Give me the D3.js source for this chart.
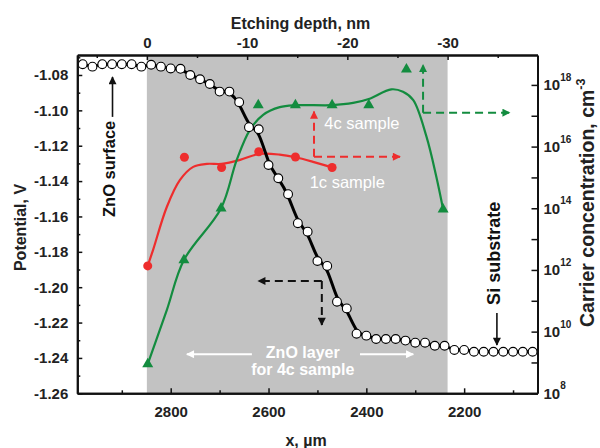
<!DOCTYPE html>
<html>
<head>
<meta charset="utf-8">
<script src="https://cdn.jsdelivr.net/npm/d3@7"></script>
<style>
  body { margin: 0; background: #fff; }
  svg { display: block; font-family: "Liberation Sans", Arial, sans-serif; }
  .axis .domain { stroke: #111; stroke-width: 2; }
  .axis line { stroke: #111; stroke-width: 1.5; }
  .axis text { font-size: 15px; font-weight: bold; fill: #222; }
</style>
</head>
<body>
<svg id="chart" width="600" height="448"></svg>
<script>
// potential profile (black line, left axis)
const potX = [2980, 2960, 2940, 2920, 2900, 2880, 2860, 2840, 2820, 2800, 2780, 2760,
  2740, 2720, 2700, 2680, 2660, 2640, 2620, 2600, 2580, 2560, 2540, 2520, 2500, 2480,
  2460, 2440, 2420, 2400, 2380, 2360, 2340, 2320, 2300, 2280, 2260, 2240, 2220, 2200,
  2180, 2160, 2140, 2120, 2100, 2080, 2060];
const potV = [-1.0739, -1.0753, -1.0739, -1.0739, -1.0739, -1.0739, -1.0753, -1.0742,
  -1.0753, -1.0763, -1.0765, -1.0800, -1.0824, -1.0851, -1.0894, -1.0894, -1.0954,
  -1.1095, -1.1107, -1.1309, -1.1384, -1.1474, -1.1638, -1.1686, -1.1852, -1.1880,
  -1.2082, -1.2120, -1.2263, -1.2274, -1.2293, -1.2293, -1.2293, -1.2302, -1.2314,
  -1.2314, -1.2331, -1.2331, -1.2355, -1.2355, -1.2365, -1.2365, -1.2365, -1.2365,
  -1.2365, -1.2365, -1.2365];

// 1c sample (red, right axis)
const c1X = [2847, 2772, 2696, 2620, 2545, 2470];
const c1N = [1.35e12, 4.5e15, 2.1e15, 6.8e15, 4.6e15, 2.1e15];
const c1FitX = [2847, 2836, 2808, 2781, 2754, 2726, 2696, 2658, 2620, 2577, 2545, 2509, 2470];
const c1FitN = [1.35e12, 4.5e12, 1.1e14, 8.3e14, 2.2e15, 2.75e15, 2.75e15, 3.7e15, 5.75e15,
  5.5e15, 4.5e15, 3.2e15, 2.1e15];

// 4c sample (green, right axis)
const c4X = [2847, 2773, 2697, 2621, 2545, 2470, 2395, 2318, 2243];
const c4N = [8.9e8, 2.1e12, 1.0e14, 2.2e17, 2.2e17, 2.2e17, 2.2e17, 3.2e18, 9.3e13];
const c4FitX = [2847, 2808, 2773, 2697, 2665, 2638, 2611, 2577, 2545, 2470, 2427,
  2395, 2349, 2325, 2304, 2277, 2257, 2243];
const c4FitN = [8.9e8, 5.0e10, 2.1e12, 1.0e14, 3.7e15, 3.5e16, 1.07e17, 1.9e17,
  2.2e17, 2.2e17, 2.6e17, 3.5e17, 7.2e17, 6.0e17, 3.2e17, 2.1e16, 1.07e15, 9.3e13];

// ticks
const xMajor = [2800, 2600, 2400, 2200];
const xMinor = [2900, 2700, 2500, 2300, 2100];
const depthMajor = [0, -10, -20, -30];
const depthMinor = [5, -5, -15, -25, -35];
const vMajor = [-1.08, -1.10, -1.12, -1.14, -1.16, -1.18, -1.20, -1.22, -1.24, -1.26];
const vMinor = [-1.07, -1.09, -1.11, -1.13, -1.15, -1.17, -1.19, -1.21, -1.23, -1.25];
const nExpLabels = [8, 10, 12, 14, 16, 18];
const znoLayer = [0, -30]; // etching depth, nm

const red = '#ee2d2d', green = '#138c3f';

const svg = d3.select('#chart');
const margin = { top: 55, right: 62.5, bottom: 54.7, left: 77.3 };
const W = 600 - margin.left - margin.right;
const H = 448 - margin.top - margin.bottom;
const g = svg.append('g').attr('transform', `translate(${margin.left},${margin.top})`);

const x = d3.scaleLinear().domain([2991, 2050]).range([0, W]);
const xTop = d3.scaleLinear().domain([6.94, -38.97]).range([0, W]);
const y = d3.scaleLinear().domain([-1.26, -1.0687]).range([H, 0]);
const yR = d3.scaleLog().domain([1e8, Math.pow(10, 18.97)]).range([H, 0]);

// markers
const defs = svg.append('defs');
function marker(id, color) {
  defs.append('marker').attr('id', id)
    .attr('viewBox', '0 0 10 10').attr('refX', 9).attr('refY', 5)
    .attr('markerWidth', 10).attr('markerHeight', 8)
    .attr('markerUnits', 'userSpaceOnUse').attr('orient', 'auto')
    .append('path').attr('d', 'M0,0L10,5L0,10z').attr('fill', color);
}
marker('ar-red', red); marker('ar-green', green);
marker('ar-black', '#111'); marker('ar-white', '#fff');

// gray ZnO band
g.append('rect')
  .attr('x', xTop(znoLayer[0])).attr('y', 0)
  .attr('width', xTop(znoLayer[1]) - xTop(znoLayer[0])).attr('height', H)
  .attr('fill', '#c2c2c2');

// fitted curves
const lineR = d3.line().x(d => x(d[0])).y(d => yR(d[1])).curve(d3.curveCatmullRom.alpha(0.5));
g.append('path').datum(d3.zip(c1FitX, c1FitN)).attr('d', lineR)
  .attr('fill', 'none').attr('stroke', red).attr('stroke-width', 2.2);
g.append('path').datum(d3.zip(c4FitX, c4FitN)).attr('d', lineR)
  .attr('fill', 'none').attr('stroke', green).attr('stroke-width', 2.2);

g.selectAll('.c1').data(d3.zip(c1X, c1N)).join('circle')
  .attr('cx', d => x(d[0])).attr('cy', d => yR(d[1])).attr('r', 4.5).attr('fill', red);
g.selectAll('.c4').data(d3.zip(c4X, c4N)).join('path')
  .attr('transform', d => `translate(${x(d[0])},${yR(d[1])})`)
  .attr('d', d3.symbol(d3.symbolTriangle, 52)).attr('fill', green);

// potential (smoothed line through the measured points)
const lineV = d3.line().x(d => x(d[0])).y(d => y(d[1])).curve(d3.curveBasis);
g.append('path').datum(d3.zip(potX, potV)).attr('d', lineV)
  .attr('fill', 'none').attr('stroke', '#000').attr('stroke-width', 3);
g.selectAll('.pv').data(d3.zip(potX, potV)).join('circle')
  .attr('cx', d => x(d[0])).attr('cy', d => y(d[1])).attr('r', 4.4)
  .attr('fill', '#fff').attr('stroke', '#000').attr('stroke-width', 1.1);

// annotation arrows (data coords: x in um, y in V)
function arrow(x1, v1, x2, v2, color, id, dash, w) {
  g.append('line')
    .attr('x1', x(x1)).attr('y1', y(v1)).attr('x2', x(x2)).attr('y2', y(v2))
    .attr('stroke', color).attr('stroke-width', w || 2)
    .attr('stroke-dasharray', dash ? '8,5' : null)
    .attr('marker-end', `url(#${id})`);
}
// red: 1c sample -> right axis
arrow(2507, -1.1262, 2507, -1.1007, red, 'ar-red', true);
arrow(2507, -1.1262, 2331, -1.1262, red, 'ar-red', true);
// green: 4c sample -> right axis
arrow(2284, -1.1013, 2284, -1.0743, green, 'ar-green', true);
arrow(2284, -1.1013, 2107, -1.1013, green, 'ar-green', true);
// black: potential -> left axis
arrow(2491, -1.1965, 2621, -1.1965, '#111', 'ar-black', true);
arrow(2491, -1.1965, 2491, -1.2214, '#111', 'ar-black', true);
// surface / substrate pointers
arrow(2919, -1.1037, 2919, -1.0811, '#111', 'ar-black', false, 1.6);
arrow(2133, -1.2146, 2133, -1.2327, '#111', 'ar-black', false, 1.6);
// ZnO layer span
arrow(2634, -1.2379, 2767, -1.2379, '#fff', 'ar-white', false, 2);
arrow(2413, -1.2379, 2304, -1.2379, '#fff', 'ar-white', false, 2);

// annotation texts
function label(txt, ux, v, opts) {
  const t = g.append('text').text(txt)
    .attr('font-size', opts.size).attr('font-weight', opts.bold ? 'bold' : 'normal')
    .attr('fill', opts.color).attr('text-anchor', opts.anchor || 'middle');
  if (opts.rotate) t.attr('transform', `translate(${x(ux)},${y(v)}) rotate(-90)`);
  else t.attr('x', x(ux)).attr('y', y(v));
}
label('4c sample', 2409, -1.1108, { size: 16.5, color: '#fff' });
label('1c sample', 2439, -1.1439, { size: 16.5, color: '#fff' });
label('ZnO layer', 2530, -1.2400, { size: 16, bold: true, color: '#fff' });
label('for 4c sample', 2530, -1.2496, { size: 16, bold: true, color: '#fff' });
label('ZnO surface', 2914, -1.1603, { size: 16.5, bold: true, color: '#111', rotate: true, anchor: 'start' });
label('Si substrate', 2127, -1.2100, { size: 18, bold: true, color: '#111', rotate: true, anchor: 'start' });

// axes
const gb = g.append('g').attr('class', 'axis').attr('transform', `translate(0,${H})`);
gb.call(d3.axisBottom(x).tickValues(xMajor).tickSize(-5).tickSizeOuter(0).tickPadding(13).tickFormat(d => d));
gb.append('g').call(d3.axisBottom(x).tickValues(xMinor).tickSize(-3).tickSizeOuter(0).tickFormat(''));

const gt = g.append('g').attr('class', 'axis');
gt.call(d3.axisTop(xTop).tickValues(depthMajor).tickSize(-5).tickSizeOuter(0).tickPadding(7).tickFormat(d => String(d)));
gt.append('g').call(d3.axisTop(xTop).tickValues(depthMinor).tickSize(-3).tickSizeOuter(0).tickFormat(''));

const gl = g.append('g').attr('class', 'axis');
gl.call(d3.axisLeft(y).tickValues(vMajor).tickSize(-5).tickSizeOuter(0).tickPadding(9).tickFormat(d => d.toFixed(2)));
gl.append('g').call(d3.axisLeft(y).tickValues(vMinor).tickSize(-3).tickSizeOuter(0).tickFormat(''));

const gr = g.append('g').attr('class', 'axis').attr('transform', `translate(${W},0)`);
const rTicks = yR.ticks().filter(v => v >= 1e8 && v <= yR.domain()[1]);
gr.call(d3.axisRight(yR).tickValues(rTicks).tickSizeOuter(0)
  .tickSize(0).tickFormat(''));
gr.selectAll('.tick line')
  .attr('x2', d => {
    const e = Math.log10(d);
    if (Math.abs(e - Math.round(e)) < 1e-9) return -6;
    return -3;
  });
const rl = gr.selectAll('.rlab').data(nExpLabels).join('text')
  .attr('x', 6).attr('y', e => yR(Math.pow(10, e)) + 5.5)
  .attr('font-size', 15).attr('font-weight', 'bold').attr('fill', '#222');
rl.append('tspan').text('10');
rl.append('tspan').text(e => e).attr('font-size', 10).attr('dy', -9.5);

// axis titles
svg.append('text').attr('x', 300.5).attr('y', 29).attr('text-anchor', 'middle')
  .attr('font-size', 16).attr('font-weight', 'bold').attr('fill', '#222')
  .text('Etching depth, nm');
svg.append('text').attr('x', 306).attr('y', 446).attr('text-anchor', 'middle')
  .attr('font-size', 16).attr('font-weight', 'bold').attr('fill', '#222')
  .text('x, \u00b5m');
svg.append('text').attr('transform', 'translate(26,227.5) rotate(-90)').attr('text-anchor', 'middle')
  .attr('font-size', 16).attr('font-weight', 'bold').attr('fill', '#222')
  .text('Potential, V');
const rt = svg.append('text').attr('transform', 'translate(594,327) rotate(-90)')
  .attr('font-size', 19.5).attr('font-weight', 'bold').attr('fill', '#222');
rt.append('tspan').text('Carrier concentration, cm');
rt.append('tspan').text('-3').attr('font-size', 12.5).attr('dy', -9.5);
</script>
</body>
</html>
